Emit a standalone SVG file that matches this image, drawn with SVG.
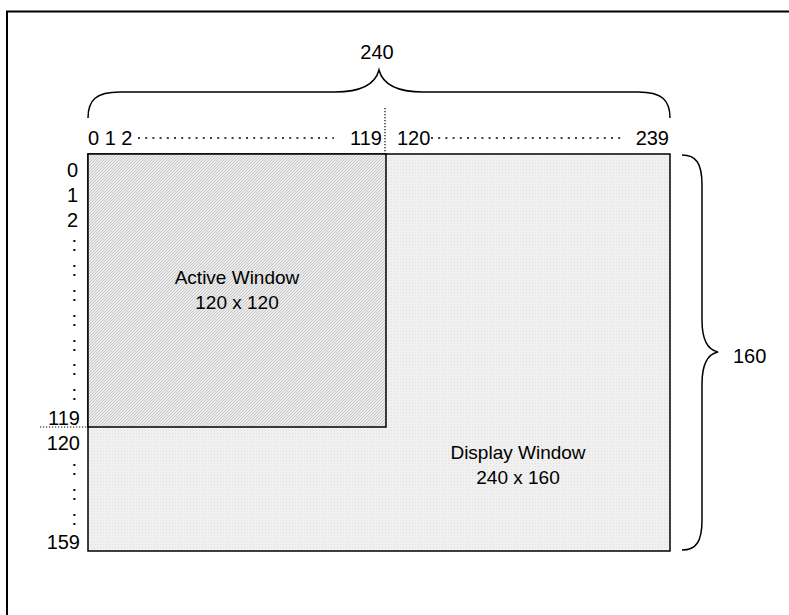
<svg xmlns="http://www.w3.org/2000/svg" width="789" height="615" viewBox="0 0 789 615">
<style>
text{font-family:"Liberation Sans",Arial,sans-serif;font-size:20px;fill:#000}
.lbl{font-size:19px}
.dot{stroke:#000;stroke-width:1.6;stroke-dasharray:2 5.2;fill:none}
.fine{stroke:#000;stroke-width:1.2;stroke-dasharray:1.2 1.8;fill:none}
.brace{stroke:#000;stroke-width:1.5;fill:none}
.box{stroke:#000;stroke-width:1.5}
.mid{text-anchor:middle}
.end{text-anchor:end}
</style>
<defs>
<pattern id="hatch" width="3" height="3" patternUnits="userSpaceOnUse">
<rect width="3" height="3" fill="#ebebeb"/>
<path d="M-1,1 L1,-1 M0,3 L3,0 M2,4 L4,2" stroke="#c4c4c4" stroke-width="0.9"/>
</pattern>
<pattern id="dots" width="3" height="3" patternUnits="userSpaceOnUse">
<rect width="3" height="3" fill="#f0f0f0"/>
<rect x="1" y="1" width="1" height="1" fill="#e0e0e0"/>
</pattern>
</defs>
<path d="M7,615 V11.5 H789" fill="none" stroke="#000" stroke-width="2"/>
<g id="display-window">
<rect class="box" x="88" y="154" width="582" height="397" fill="url(#dots)"/>
<text class="mid lbl" x="518" y="459">Display Window</text>
<text class="mid lbl" x="518" y="484">240 x 160</text>
</g>
<g id="active-window">
<rect class="box" x="88" y="154" width="298" height="273" fill="url(#hatch)"/>
<text class="mid lbl" x="237" y="284">Active Window</text>
<text class="mid lbl" x="237" y="309">120 x 120</text>
</g>
<g id="top-axis">
<text x="88" y="145">0 1 2</text>
<line class="dot" x1="138" y1="138" x2="334" y2="138"/>
<text class="end" x="382" y="145">119</text>
<text x="397" y="145">120</text>
<line class="dot" x1="431" y1="138" x2="624" y2="138"/>
<text class="end" x="669" y="145">239</text>
<line class="fine" x1="385" y1="108" x2="385" y2="154"/>
<path class="brace" d="M88,118 C88,100 96,92 120,92 H335 C360,92 375,85 379,70 C383,85 398,92 423,92 H638 C662,92 670,100 670,118"/>
<text class="mid" x="377" y="59">240</text>
</g>
<g id="left-axis">
<text class="end" x="78" y="177">0</text>
<text class="end" x="78" y="201.8">1</text>
<text class="end" x="78" y="226.6">2</text>
<text class="end" x="77" y="251.4">:</text>
<text class="end" x="77" y="276.2">:</text>
<text class="end" x="77" y="301">:</text>
<text class="end" x="77" y="325.8">:</text>
<text class="end" x="77" y="350.6">:</text>
<text class="end" x="77" y="375.4">:</text>
<text class="end" x="77" y="400.2">:</text>
<text class="end" x="80" y="425">119</text>
<line class="fine" x1="40" y1="427" x2="88" y2="427"/>
<text class="end" x="80" y="450">120</text>
<text class="end" x="77" y="475">:</text>
<text class="end" x="77" y="500">:</text>
<text class="end" x="77" y="525">:</text>
<text class="end" x="80" y="549">159</text>
</g>
<g id="right-brace">
<path class="brace" d="M682,155 C696,155 702,163 702,185 V320 C702,340 708,350 718,352 C708,354 702,364 702,384 V520 C702,542 696,550 682,550"/>
<text x="733" y="363">160</text>
</g>
</svg>
